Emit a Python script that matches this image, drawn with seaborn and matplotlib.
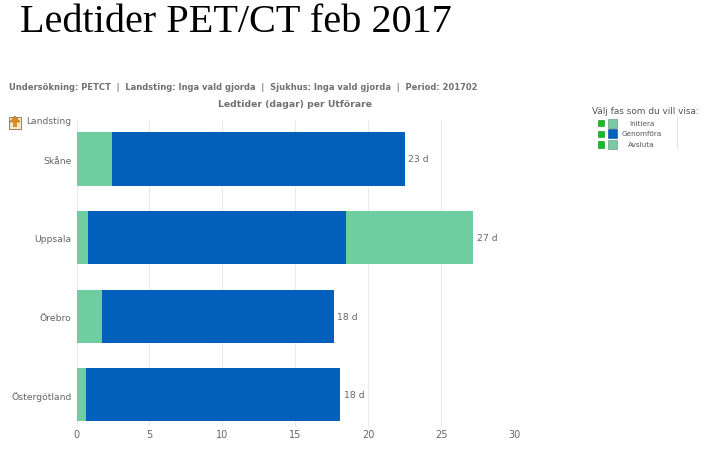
import matplotlib
matplotlib.use("Agg")
import matplotlib.pyplot as plt
from matplotlib.patches import Rectangle, Polygon
import numpy as np
import pandas as pd
import seaborn as sns

regions = ["Skåne", "Uppsala", "Örebro", "Östergötland"]
initiera = [2.4, 0.8, 1.75, 0.65]
genomfora = [20.1, 17.7, 15.9, 17.45]
avsluta = [0.0, 8.7, 0.0, 0.0]
bar_labels = ["23 d", "27 d", "18 d", "18 d"]
phases = ["Initiera", "Genomföra", "Avsluta"]
ticks = [0, 5, 10, 15, 20, 25, 30]
GREEN = "#70CD9F"
BLUE = "#0060BB"
LEG_GREEN = "#7CC8A4"
GREY = "#666666"

W, H = 712, 456
AX_TOP, AX_BOTTOM = 121, 428
sns.set_theme(style="white")
plt.rcParams["font.family"] = ["DejaVu Sans"]
fig = plt.figure(figsize=(W / 100, H / 100), dpi=100, facecolor="white")
ax = fig.add_axes([76.5 / W, 1 - AX_BOTTOM / H, (514 - 76.5) / W, (AX_BOTTOM - AX_TOP) / H])

df = pd.DataFrame({"region": regions, "i": initiera, "g": genomfora, "a": avsluta})
left2 = df["i"]
left3 = df["i"] + df["g"]
common = dict(data=df, y="region", saturation=1, width=0.675, ax=ax, zorder=3, linewidth=0)
sns.barplot(x="i", color=GREEN, **common)
sns.barplot(x="g", left=left2, color=BLUE, **common)
sns.barplot(x="a", left=left3, color=GREEN, **common)

ax.set_xlim(0, 30)
ax.set_ylim((AX_BOTTOM - 160) / 78.6, (AX_TOP - 160) / 78.6)
ax.set_xlabel("")
ax.set_ylabel("")
ax.set_xticks(ticks)
ax.tick_params(axis="x", length=0, labelsize=7, labelcolor=GREY, pad=1.5)
ax.tick_params(axis="y", length=0, labelsize=6.7, labelcolor=GREY, pad=3.5)
for s in ax.spines.values():
    s.set_visible(False)
ax.xaxis.grid(True, color="#EAEAEA", lw=0.8, zorder=0)
ax.yaxis.grid(False)
ax.set_axisbelow(True)

totals = np.array(initiera) + np.array(genomfora) + np.array(avsluta)
for i, (t, lab) in enumerate(zip(totals, bar_labels)):
    ax.annotate(lab, (t, i), xytext=(2.5, 0), textcoords="offset points", va="center",
                ha="left", fontsize=6.7, color=GREY)

def ftext(x, y, s, **kw):
    fig.text(x / W, 1 - y / H, s, va="center", **kw)

ftext(20, 23, "Ledtider PET/CT feb 2017", fontsize=29, family="Liberation Serif", color="black")
ftext(9, 88, "Undersökning: PETCT  |  Landsting: Inga vald gjorda  |  Sjukhus: Inga vald gjorda  |  Period: 201702",
      fontsize=6.0, fontweight="bold", color="#707070")
ftext(294.5, 104.5, "Ledtider (dagar) per Utförare", fontsize=6.7, fontweight="bold", color="#707070", ha="center")
ftext(26, 122, "Landsting", fontsize=6.6, color=GREY)

def rect(x, y, w, h, **kw):
    fig.add_artist(Rectangle((x / W, 1 - (y + h) / H), w / W, h / H, transform=fig.transFigure, **kw))

# "up" icon beside the drill label
rect(9, 118, 12, 12, facecolor="#F4E8C8", edgecolor="#8A7040", lw=0.6)
fig.add_artist(Polygon([(15 / W, 1 - 117 / H), (20 / W, 1 - 123 / H), (10 / W, 1 - 123 / H)],
                       transform=fig.transFigure, facecolor="#E09020", edgecolor="#A06010", lw=0.4))
rect(13, 123, 4, 5, facecolor="#E09020", edgecolor="none")

# legend
ftext(592, 112, "Välj fas som du vill visa:", fontsize=6.4, color="#555555")
for y, name, col in zip([124, 134.5, 145.5], phases, [LEG_GREEN, BLUE, LEG_GREEN]):
    rect(598, y - 3, 6, 6, facecolor="#10C020", edgecolor="#0A8A15", lw=0.4)
    rect(608, y - 4.5, 9, 9, facecolor=col, edgecolor="#5A8A78" if col != BLUE else "#004C99", lw=0.4)
    ftext(641.5, y, name, fontsize=5.2, color="#555555", ha="center")
rect(677, 118, 0.7, 32, facecolor="#E4E4E4", edgecolor="none")

fig.savefig("out.png", dpi=100, facecolor="white")
